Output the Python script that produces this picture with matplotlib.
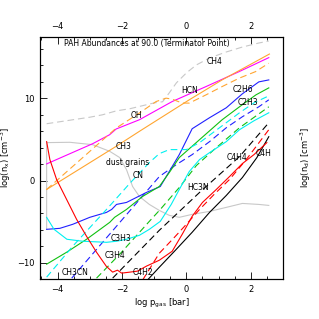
import numpy as np
import matplotlib
matplotlib.use("Agg")
import matplotlib.pyplot as plt
from matplotlib.ticker import MultipleLocator

# log p_gas [bar] vs log n [cm^-3]
ch4_x = [-4.34, -3.93, -3.53, -3.00, -2.60, -2.17, -1.76, -0.99, -0.74, -0.53, -0.31, 0.00, 0.31, 0.72, 1.24, 1.74, 2.25, 2.56]
ch4_y = [6.91, 7.15, 7.39, 7.70, 8.00, 8.48, 8.73, 9.45, 9.58, 10.67, 11.88, 13.09, 14.06, 14.91, 15.64, 16.24, 16.73, 16.97]

oh_x = [-4.34, -2.91, -2.38, -2.18, -1.46, -0.44, 0.61, 1.64, 2.56]
oh_y = [2.02, 4.48, 5.58, 6.27, 7.39, 9.61, 11.43, 13.25, 14.95]

hcn_x = [-4.34, -2.18, -1.46, -0.94, -0.63, -0.44, -0.13, 0.09, 0.61, 1.11, 1.64, 2.15, 2.56]
hcn_y = [-1.09, 6.38, 8.21, 9.61, 10.02, 9.90, 9.42, 9.42, 10.42, 11.43, 12.45, 13.25, 14.27]

ch3_x = [-4.34, -2.18, -1.46, 0.09, 1.11, 2.58]
ch3_y = [-1.09, 4.16, 5.98, 9.82, 12.24, 15.39]

dust_x = [-4.34, -4.34, -3.62, -2.91, -2.38, -2.07, -1.86, -1.67, -1.46, -1.15, -0.84, -0.53, -0.22, 0.18, 0.72, 1.24, 1.74, 2.25, 2.56]
dust_y = [-5.94, 4.61, 4.65, 4.36, 3.55, 2.79, 1.33, -0.73, -1.94, -2.91, -3.64, -4.24, -4.48, -4.12, -3.76, -3.27, -2.79, -2.91, -3.03]

c4h_x = [-4.34, -4.24, -4.03, -3.72, -3.41, -3.10, -2.79, -2.49, -2.29, -2.14, -2.01, -1.76, -1.52, -1.24, -0.84, -0.44, -0.13, 0.18, 0.50, 0.93, 1.34, 1.74, 2.10, 2.50]
c4h_y = [4.73, 2.55, 0.12, -2.30, -4.72, -6.79, -8.73, -10.42, -11.15, -10.91, -11.27, -11.15, -11.03, -10.42, -9.70, -8.61, -6.55, -4.36, -2.67, -1.09, 0.48, 2.06, 3.15, 4.61]

c4h2_x = [-1.36, -0.84, -0.37, 0.00, 0.41, 0.86, 1.34, 1.86, 2.56]
c4h2_y = [-12.12, -8.85, -6.91, -5.33, -3.52, -1.70, 0.12, 2.55, 6.18]

c4h4_x = [-2.29, -0.84, 0.41, 1.65, 2.56]
c4h4_y = [-11.88, -6.06, -1.45, 2.91, 7.03]

hc3n_x = [-1.21, -0.84, -0.37, 0.18, 0.72, 1.24, 1.74, 2.19, 2.56]
hc3n_y = [-12.12, -10.55, -8.61, -6.30, -3.88, -1.82, 0.36, 2.79, 5.33]

c2h6_x = [-4.34, -3.93, -3.53, -3.00, -2.48, -2.32, -2.17, -1.86, -1.55, -1.24, -0.81, -0.44, -0.22, 0.18, 0.72, 1.24, 1.74, 2.25, 2.56]
c2h6_y = [-5.94, -5.82, -5.33, -4.48, -3.88, -3.52, -2.91, -2.67, -2.06, -1.45, -0.73, 1.70, 3.15, 6.30, 7.64, 8.85, 10.55, 12.00, 12.24]

ch3cn_x = [-3.56, -0.84, -0.31, 0.18, 0.72, 1.24, 1.74, 2.25, 2.56]
ch3cn_y = [-11.88, 0.48, 1.94, 3.15, 4.73, 6.42, 7.76, 8.97, 9.82]

c2h2_x = [-4.34, -3.72, -3.10, -2.38, -2.23, -1.86, -1.36, -0.84, -0.53, -0.22, 0.41, 1.11, 1.65, 2.16, 2.56]
c2h2_y = [-10.18, -8.73, -7.15, -5.09, -4.48, -3.52, -1.94, -0.73, 0.97, 2.79, 4.97, 7.39, 8.97, 10.42, 11.27]

c3h4_x = [-2.79, -2.07, -1.15, -0.81, -0.22, 0.31, 0.86, 1.65, 2.56]
c3h4_y = [-11.88, -8.97, -4.97, -3.52, -0.85, 1.82, 3.76, 6.42, 8.97]

c3h3_x = [-4.34, -4.11, -3.71, -3.22, -2.48, -2.17, -1.86, -1.46, -1.15, -0.81, -0.47, -0.22, 0.09, 0.41, 0.72, 1.24, 1.65, 2.10, 2.56]
c3h3_y = [-4.48, -5.94, -7.15, -7.39, -7.52, -7.39, -7.15, -6.67, -5.94, -4.97, -2.91, -1.09, 1.09, 2.55, 3.39, 4.73, 6.18, 7.27, 8.24]

cn_x = [-4.34, -3.53, -2.48, -1.76, -1.15, -0.84, -0.53, 0.00, 0.41, 1.03, 1.65, 2.10, 2.56]
cn_y = [-11.76, -8.00, -3.52, -0.36, 2.18, 3.27, 3.76, 3.76, 4.61, 6.42, 8.24, 9.45, 10.30]

labels = ["CH4", "HCN", "OH", "C2H6", "C2H3", "CH3", "dust grains", "CN", "HC3N",
          "C4H4", "C4H", "C3H3", "C3H4", "CH3CN", "C4H2"]
label_x = [0.87, 0.09, -1.55, 1.76, 1.92, -1.95, -1.83, -1.49, 0.37, 1.57, 2.41, -2.04, -2.23, -3.46, -1.36]
label_y = [14.42, 10.91, 7.88, 11.03, 9.45, 4.12, 2.18, 0.61, -0.85, 2.79, 3.27, -7.03, -9.09, -11.15, -11.15]

fig = plt.figure(figsize=(3.19, 3.19), dpi=100)
ax = fig.add_axes([0.125, 0.125, 0.762, 0.760])

dash = (6, 3.5)
lw = 0.8
ax.plot(ch4_x, ch4_y, color="#c8c8c8", lw=lw, dashes=dash)
ax.plot(dust_x, dust_y, color="#c8c8c8", lw=lw)
ax.plot(oh_x, oh_y, color="#ff00ff", lw=lw)
ax.plot(hcn_x, hcn_y, color="#ffa530", lw=lw, dashes=dash)
ax.plot(ch3_x, ch3_y, color="#ffa530", lw=lw)
ax.plot(c2h6_x, c2h6_y, color="#2020ff", lw=lw)
ax.plot(ch3cn_x, ch3cn_y, color="#2020ff", lw=lw, dashes=dash)
ax.plot(c2h2_x, c2h2_y, color="#10c010", lw=lw)
ax.plot(c3h4_x, c3h4_y, color="#10c010", lw=lw, dashes=dash)
ax.plot(c3h3_x, c3h3_y, color="#00f0f0", lw=lw)
ax.plot(cn_x, cn_y, color="#00f0f0", lw=lw, dashes=dash)
ax.plot(c4h4_x, c4h4_y, color="black", lw=lw, dashes=dash)
ax.plot(hc3n_x, hc3n_y, color="black", lw=lw)
ax.plot(c4h2_x, c4h2_y, color="red", lw=lw, dashes=dash)
ax.plot(c4h_x, c4h_y, color="red", lw=lw)

for t, x, y in zip(labels, label_x, label_y):
    ax.text(x, y, t, fontsize=5.5, ha="center", va="center")

ax.text(-3.8, 16.73, "PAH Abundances at 90.0 (Terminator Point)", fontsize=5.5, ha="left", va="center")

ax.set_xlim(-4.55, 3.0)
ax.set_ylim(-12.0, 17.5)
ax.xaxis.set_major_locator(MultipleLocator(2))
ax.xaxis.set_minor_locator(MultipleLocator(0.5))
ax.yaxis.set_major_locator(MultipleLocator(10))
ax.yaxis.set_minor_locator(MultipleLocator(2))
ax.tick_params(which="both", direction="in", top=True, right=True,
               labeltop=True, labelright=True, labelsize=6, width=0.6, pad=4)
ax.tick_params(which="major", length=5)
ax.tick_params(which="minor", length=2.5)
for s in ax.spines.values():
    s.set_linewidth(0.8)

ax.set_xlabel(r"log p$_{\rm gas}$ [bar]", fontsize=6, labelpad=2)
ax.set_ylabel(r"log(n$_{\rm x}$) [cm$^{-3}$]", fontsize=6)
ax.yaxis.set_label_coords(-0.11, 0.5)
ax2 = ax.twinx()
ax2.set_ylim(ax.get_ylim())
ax2.set_yticks([])
ax2.set_ylabel(r"log(n$_{\rm d}$) [cm$^{-3}$]", fontsize=6)
ax2.yaxis.set_label_coords(1.065, 0.5)

fig.savefig("out.png", dpi=100)
